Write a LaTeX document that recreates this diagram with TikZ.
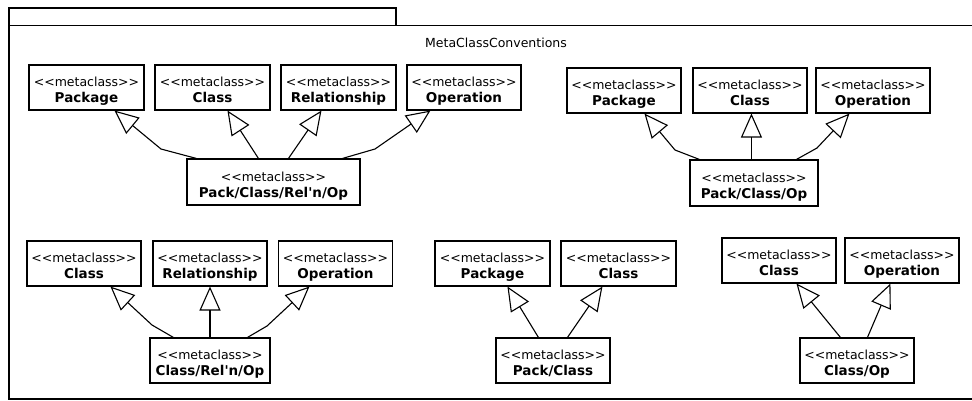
\documentclass[tikz,border=0pt]{standalone}
\usepackage{fontspec}
\setmainfont{DejaVu Sans}
\usetikzlibrary{arrows.meta}

% stereotype label, with the doubled angle brackets kept apart
\newcommand{\mcl}{<{}<metaclass>{}>}
\newcommand{\mcbox}[1]{\mcl\\{\fontsize{13.5}{16}\selectfont\bfseries #1}}

\begin{document}
\begin{tikzpicture}[x=1pt,y=-1pt,
  line width=1.1pt,
  mc/.style={draw, line width=1.1pt, minimum width=115pt, minimum height=45pt,
    inner sep=0pt, align=center, text height=34pt, text depth=3.6pt,
    font=\fontsize{12.5}{16}\selectfont},
  gen/.style={-{Triangle[open,length=24pt,width=21pt]}, line width=1.1pt},
  title/.style={font=\fontsize{12.5}{15}\selectfont, inner sep=0pt}]

\useasboundingbox (0,0) rectangle (972,400);

% package frame with tab
\draw (9,8) rectangle (396,25.5);
\draw (9,25.5) -- (985,25.5);
\draw (9,25.5) -- (9,399) -- (985,399);
\node[title] (frametitle) at (496,43) {MetaClassConventions};

% group 1: Pack/Class/Rel'n/Op
\node[mc] (pkgA) at (86.5,87.5) {\mcbox{Package}};
\node[mc] (clsA) at (212.5,87.5) {\mcbox{Class}};
\node[mc] (relA) at (338.5,87.5) {\mcbox{Relationship}};
\node[mc, minimum width=114pt] (opA) at (464,87.5) {\mcbox{Operation}};
\node[mc, minimum width=173pt, minimum height=46pt] (subA) at (273.5,182)
  {\mcbox{Pack/Class/Rel\textquotesingle n/Op}};

\coordinate (bA1) at (161,149);
\coordinate (bA4) at (375,149);
\draw[gen] ([xshift=10pt]subA.north west) -- (bA1) -- ([xshift=86pt]pkgA.south west);
\draw[gen] ([xshift=72pt]subA.north west) -- ([xshift=73pt]clsA.south west);
\draw[gen] ([xshift=102pt]subA.north west) -- ([xshift=41pt]relA.south west);
\draw[gen] ([xshift=156pt]subA.north west) -- (bA4) -- ([xshift=24pt]opA.south west);

% group 2: Pack/Class/Op
\node[mc, minimum width=114pt] (pkgB) at (624,90.5) {\mcbox{Package}};
\node[mc, minimum width=114pt] (clsB) at (750,90.5) {\mcbox{Class}};
\node[mc, minimum width=114pt] (opB) at (873,90.5) {\mcbox{Operation}};
\node[mc, minimum width=128pt, minimum height=46pt] (subB) at (754,183)
  {\mcbox{Pack/Class/Op}};

\coordinate (bB1) at (675,150);
\coordinate (bB3) at (817,148);
\draw[gen] ([xshift=10pt]subB.north west) -- (bB1) -- ([xshift=78pt]pkgB.south west);
\draw[gen] ([xshift=62pt]subB.north west) -- ([xshift=59pt]clsB.south west);
\draw[gen] ([xshift=107pt]subB.north west) -- (bB3) -- ([xshift=34pt]opB.south west);

% group 3: Class/Rel'n/Op
\node[mc, minimum width=114pt] (clsC) at (84,263.5) {\mcbox{Class}};
\node[mc, minimum width=114pt] (relC) at (210,263.5) {\mcbox{Relationship}};
\node[mc, minimum width=114pt] (opC) at (335.5,263.5) {\mcbox{Operation}};
\node[mc, minimum width=120pt] (subC) at (210,360.5) {\mcbox{Class/Rel\textquotesingle n/Op}};

\coordinate (bC1) at (152,325);
\coordinate (bC3) at (267,326);
\draw[gen] ([xshift=24pt]subC.north west) -- (bC1) -- ([xshift=84pt]clsC.south west);
\draw[gen] (subC.north) -- (relC.south);
\draw[gen] ([xshift=98pt]subC.north west) -- (bC3) -- ([xshift=31.5pt]opC.south west);

% group 4: Pack/Class
\node[mc] (pkgD) at (492.5,263.5) {\mcbox{Package}};
\node[mc] (clsD) at (618.5,263.5) {\mcbox{Class}};
\node[mc, minimum width=114pt] (subD) at (553,360.5) {\mcbox{Pack/Class}};

\draw[gen] ([xshift=43pt]subD.north west) -- ([xshift=73pt]pkgD.south west);
\draw[gen] ([xshift=72pt]subD.north west) -- ([xshift=42pt]clsD.south west);

% group 5: Class/Op
\node[mc, minimum width=114pt] (clsE) at (779,260.5) {\mcbox{Class}};
\node[mc, minimum width=114pt] (opE) at (902,260.5) {\mcbox{Operation}};
\node[mc, minimum width=114pt] (subE) at (857,360.5) {\mcbox{Class/Op}};

\draw[gen] ([xshift=41pt]subE.north west) -- ([xshift=75pt]clsE.south west);
\draw[gen] ([xshift=68pt]subE.north west) -- ([xshift=46pt]opE.south west);

\end{tikzpicture}
\end{document}
